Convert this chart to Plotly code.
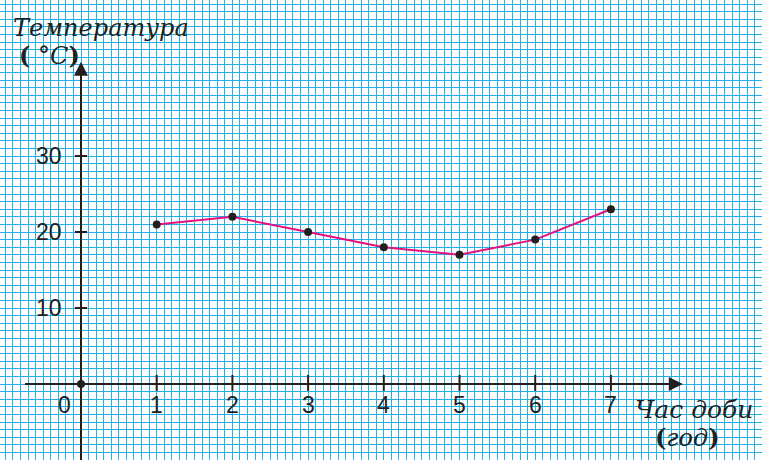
import plotly.graph_objects as go

hours = [1, 2, 3, 4, 5, 6, 7]
temps = [21, 22, 20, 18, 17, 19, 23]
x_tick_labels = ["0", "1", "2", "3", "4", "5", "6", "7"]
y_ticks = [10, 20, 30]

grid_color = "#22aee9"
axis_color = "#231f20"
serif = "DejaVu Serif, Liberation Serif, serif"
sans = "Liberation Sans, Arial, sans-serif"

fig = go.Figure()

fig.add_trace(go.Scatter(
    x=hours, y=temps, mode="lines+markers",
    line=dict(color="#e5127d", width=2),
    marker=dict(color="#231f20", size=8),
    hoverinfo="skip", showlegend=False,
))
fig.add_trace(go.Scatter(
    x=[0], y=[0], mode="markers",
    marker=dict(color="#231f20", size=8),
    hoverinfo="skip", showlegend=False,
))

shapes = []
shapes.append(dict(type="line", xref="x", yref="y", x0=-0.74, y0=0, x1=7.8, y1=0,
                   line=dict(color=axis_color, width=2)))
shapes.append(dict(type="line", xref="x", yref="y", x0=0, y0=-10.5, x1=0, y1=41.0,
                   line=dict(color=axis_color, width=2)))
for h in hours:
    shapes.append(dict(type="line", xref="x", yref="y", x0=h, y0=-0.9, x1=h, y1=1.2,
                       line=dict(color=axis_color, width=2)))
for v in y_ticks:
    shapes.append(dict(type="line", xref="x", yref="y", x0=-0.08, y0=v, x1=0.08, y1=v,
                       line=dict(color=axis_color, width=2)))

annotations = []
annotations.append(dict(x=7.95, y=0, ax=7.6, ay=0, xref="x", yref="y", axref="x", ayref="y",
                        text="", showarrow=True, arrowhead=2, arrowsize=1.4, arrowwidth=2,
                        arrowcolor=axis_color))
annotations.append(dict(x=0, y=42.4, ax=0, ay=38.0, xref="x", yref="y", axref="x", ayref="y",
                        text="", showarrow=True, arrowhead=2, arrowsize=1.4, arrowwidth=2,
                        arrowcolor=axis_color))
for i, lab in enumerate(x_tick_labels):
    xpos = i if i > 0 else -0.22
    annotations.append(dict(x=xpos, y=-2.8, xref="x", yref="y", text=lab, showarrow=False,
                            font=dict(family=sans, size=23, color=axis_color)))
for v in y_ticks:
    annotations.append(dict(x=-0.42, y=v, xref="x", yref="y", text=str(v), showarrow=False,
                            font=dict(family=sans, size=23, color=axis_color)))
annotations.append(dict(x=-0.93, y=46.9, xref="x", yref="y", xanchor="left",
                        text="<i>Температура</i>", showarrow=False,
                        font=dict(family=serif, size=24, color=axis_color)))
annotations.append(dict(x=-0.85, y=43.2, xref="x", yref="y", xanchor="left",
                        text="<b>(</b>&nbsp;°<i>C</i><b>)</b>", showarrow=False,
                        font=dict(family=serif, size=24, color=axis_color)))
annotations.append(dict(x=8.9, y=-3.4, xref="x", yref="y", xanchor="right",
                        text="<i>Час доби</i>", showarrow=False,
                        font=dict(family=serif, size=25, color=axis_color)))
annotations.append(dict(x=8.47, y=-7.0, xref="x", yref="y", xanchor="right",
                        text="<b>(</b><i>год</i><b>)</b>", showarrow=False,
                        font=dict(family=serif, size=24, color=axis_color)))

fig.update_layout(
    width=762, height=460,
    margin=dict(l=0, r=0, t=0, b=0),
    paper_bgcolor="white", plot_bgcolor="white",
    shapes=shapes, annotations=annotations,
    xaxis=dict(range=[-1.070, 8.996], showgrid=True, gridcolor=grid_color, gridwidth=1,
               tick0=0, dtick=0.1, showticklabels=False, zeroline=False, ticks="",
               fixedrange=True),
    yaxis=dict(range=[-10.0, 50.53], showgrid=True, gridcolor=grid_color, gridwidth=1,
               tick0=0, dtick=1, showticklabels=False, zeroline=False, ticks="",
               fixedrange=True),
)

fig.write_html("out.html", config={"displayModeBar": False},
               post_script="document.body.style.margin='0';document.body.style.padding='0';")
